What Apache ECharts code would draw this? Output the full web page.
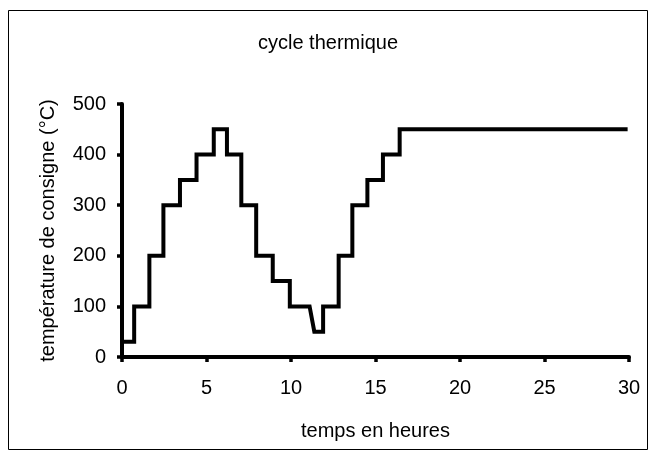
<!DOCTYPE html>
<html>
<head>
<meta charset="utf-8">
<script src="https://cdn.jsdelivr.net/npm/echarts@6/dist/echarts.min.js"></script>
<style>
html,body{margin:0;padding:0;background:#fff;}
#chart{width:656px;height:456px;}
</style>
</head>
<body>
<div id="chart"></div>
<script>
// time (h) and set-point temperature (°C) at each corner of the profile
var timeHours = [0, 0.72, 0.72, 1.62, 1.62, 2.45, 2.45, 3.43, 3.43, 4.41, 4.41, 5.43, 5.43, 6.21, 6.21, 7.06, 7.06, 7.94, 7.94, 8.92, 8.92, 9.93, 9.93, 11.1, 11.38, 11.9, 11.9, 12.82, 12.82, 13.63, 13.63, 14.52, 14.52, 15.44, 15.44, 16.43, 16.43, 29.8];
var temperature = [30, 30, 100, 100, 200, 200, 300, 300, 350, 350, 400, 400, 450, 450, 400, 400, 300, 300, 200, 200, 150, 150, 100, 100, 50, 50, 100, 100, 200, 200, 300, 300, 350, 350, 400, 400, 450, 450];
var xTicks = [0, 5, 10, 15, 20, 25, 30];
var yTicks = [0, 100, 200, 300, 400, 500];
var titleText = 'cycle thermique';
var xName = 'temps en heures';
var yName = 'température de consigne (°C)';

var data = timeHours.map(function (t, i) { return [t, temperature[i]]; });
var font = '"Liberation Sans", Arial, sans-serif';

var chart = echarts.init(document.getElementById('chart'), null, {renderer: 'canvas'});
chart.setOption({
  animation: false,
  backgroundColor: '#fff',
  title: {
    text: titleText,
    left: 'center',
    top: 28,
    textStyle: {fontFamily: font, fontSize: 20, fontWeight: 'normal', color: '#000'}
  },
  graphic: [{
    type: 'rect',
    shape: {x: 8.5, y: 10.5, width: 639, height: 439},
    style: {fill: 'none', stroke: '#000', lineWidth: 1}
  }],
  grid: {left: 122, right: 27, top: 104, bottom: 99},
  xAxis: {
    type: 'value',
    min: xTicks[0],
    max: xTicks[xTicks.length - 1],
    interval: 5,
    name: xName,
    nameLocation: 'middle',
    nameGap: 64,
    nameTextStyle: {fontFamily: font, fontSize: 20, color: '#000'},
    axisLine: {show: true, lineStyle: {color: '#000', width: 4}},
    axisTick: {show: true, inside: false, length: 5, lineStyle: {color: '#000', width: 3.5}},
    axisLabel: {fontFamily: font, fontSize: 20, color: '#000', margin: 21},
    splitLine: {show: false}
  },
  yAxis: {
    type: 'value',
    min: yTicks[0],
    max: yTicks[yTicks.length - 1],
    interval: 100,
    name: yName,
    nameLocation: 'middle',
    nameGap: 64,
    nameRotate: 90,
    nameTextStyle: {fontFamily: font, fontSize: 20, color: '#000'},
    axisLine: {show: true, lineStyle: {color: '#000', width: 4}},
    axisTick: {show: true, inside: false, length: 5, lineStyle: {color: '#000', width: 3.5}},
    axisLabel: {fontFamily: font, fontSize: 20, color: '#000', margin: 16},
    splitLine: {show: false}
  },
  series: [{
    type: 'line',
    data: data,
    symbol: 'none',
    lineStyle: {color: '#000', width: 4, join: 'miter', cap: 'square'}
  }]
});
</script>
</body>
</html>
